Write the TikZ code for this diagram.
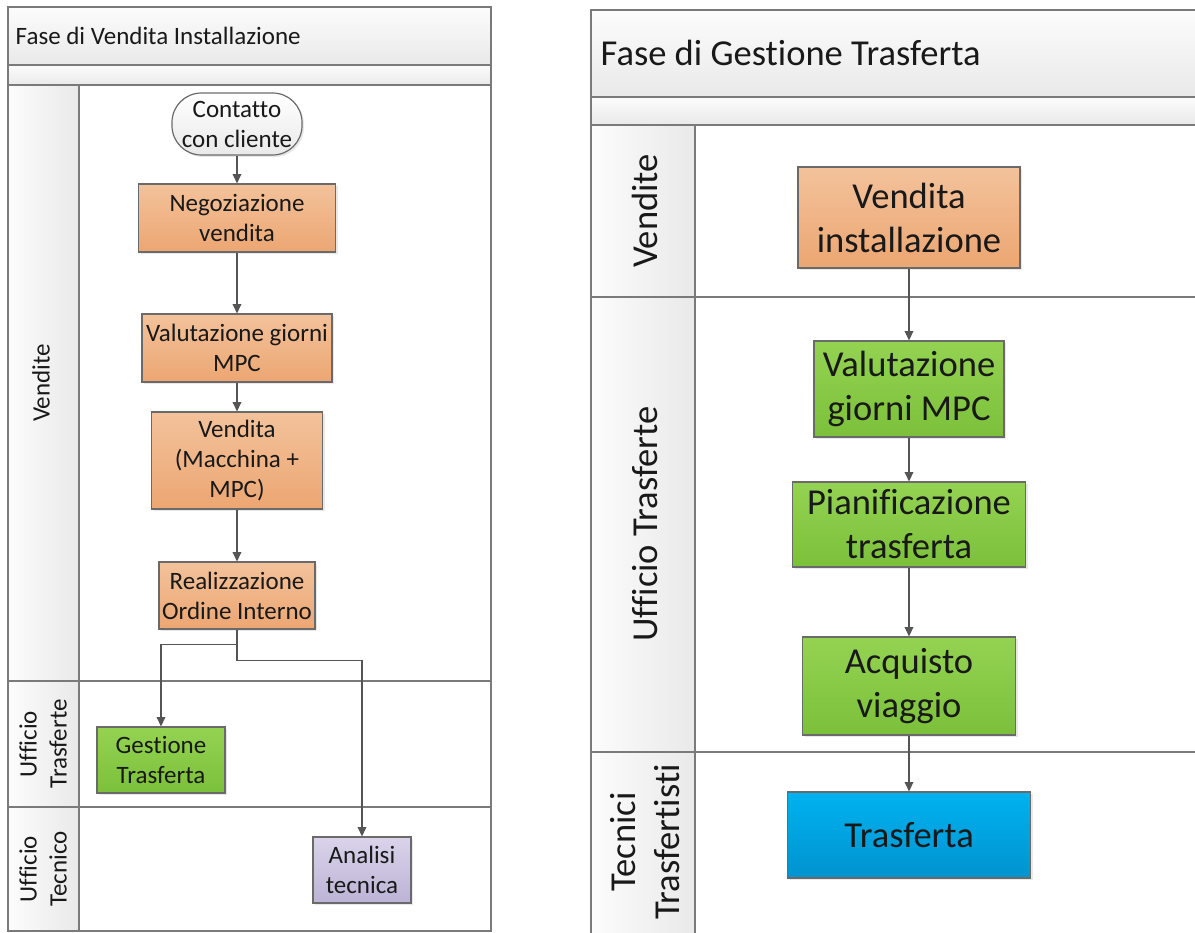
\documentclass[tikz,border=0pt]{standalone}
\usepackage{fontspec}
\setmainfont{Carlito}[Ligatures=NoCommon]
\usetikzlibrary{arrows.meta,shadows}

\definecolor{linegray}{HTML}{7A7A7A}
\definecolor{boxline}{HTML}{6A6A6A}
\definecolor{arrowgray}{HTML}{555555}
\definecolor{orangeT}{HTML}{F3C29B}
\definecolor{orangeB}{HTML}{ECA672}
\definecolor{greenT}{HTML}{94D352}
\definecolor{greenB}{HTML}{7BC03A}
\definecolor{blueT}{HTML}{00B2F0}
\definecolor{blueB}{HTML}{0093CF}
\definecolor{lilacT}{HTML}{DAD3EA}
\definecolor{lilacB}{HTML}{BDB3D6}
\definecolor{headT}{HTML}{FCFCFC}
\definecolor{headB}{HTML}{E9E9E9}

\tikzset{
  frame/.style={draw=linegray, line width=1.1pt},
  headfill/.style={top color=headT, bottom color=headB, draw=none},
  lanefill/.style={left color=headT, right color=headB, draw=none},
  smallfont/.style={font=\fontsize{18.75}{22.5}\selectfont},
  bigfont/.style={font=\fontsize{27.4}{33}\selectfont},
  procbox/.style={rectangle, draw=boxline, line width=0.9pt, align=center,
    inner sep=2pt, text=black!90,
    drop shadow={opacity=0.18, shadow xshift=1.5pt, shadow yshift=-1.5pt}},
  orangebox/.style={procbox, top color=orangeT, bottom color=orangeB},
  greenbox/.style={procbox, top color=greenT, bottom color=greenB},
  bluebox/.style={procbox, top color=blueT, bottom color=blueB},
  lilacbox/.style={procbox, top color=lilacT, bottom color=lilacB},
  startbox/.style={procbox, rounded corners=22pt, top color=white, bottom color=headB},
  lanelabel/.style={rotate=90, align=center, text=black!90},
  arr/.style={draw=arrowgray, line width=1pt, -{Triangle[length=7pt,width=6.5pt]}},
}

\begin{document}
\begin{tikzpicture}[x=0.75pt,y=-0.75pt]
\useasboundingbox (0,0) rectangle (1195,932);
\clip (0,0) rectangle (1195,932);
\fill[white] (0,0) rectangle (1195,932);

% ---------- Fase di Vendita Installazione ----------
\shade[headfill] (8,7) rectangle (491,65);
\shade[headfill] (8,65) rectangle (491,85);
\shade[lanefill] (8,85) rectangle (79,931);
\draw[frame] (8,7) rectangle (491,931);
\draw[frame] (8,65) -- (491,65);
\draw[frame] (8,85) -- (491,85);
\draw[frame] (79,85) -- (79,931);
\draw[frame] (8,681) -- (491,681);
\draw[frame] (8,807) -- (491,807);

\node[smallfont, anchor=west, text=black!90] (titleL) at (11,36) {Fase di Vendita Installazione};
\node[smallfont, lanelabel] (laneLa) at (41,383) {Vendite};
\node[smallfont, lanelabel] (laneLb) at (43,744) {Ufficio\\Trasferte};
\node[smallfont, lanelabel] (laneLc) at (43,869) {Ufficio\\Tecnico};

\node[startbox, smallfont, minimum width=130*0.75pt, minimum height=62*0.75pt] (contatto) at (237,124) {Contatto\\con cliente};
\node[orangebox, smallfont, minimum width=197*0.75pt, minimum height=68*0.75pt] (nego) at (237,218) {Negoziazione\\vendita};
\node[orangebox, smallfont, minimum width=190*0.75pt, minimum height=68*0.75pt] (valutL) at (237,348) {Valutazione giorni\\MPC};
\node[orangebox, smallfont, minimum width=171*0.75pt, minimum height=97*0.75pt] (venditaL) at (237,460.5) {Vendita\\(Macchina +\\MPC)};
\node[orangebox, smallfont, minimum width=156*0.75pt, minimum height=67*0.75pt] (realiz) at (237,595.5) {Realizzazione\\Ordine Interno};
\node[greenbox, smallfont, minimum width=128*0.75pt, minimum height=66*0.75pt] (gestione) at (161,760) {Gestione\\Trasferta};
\node[lilacbox, smallfont, minimum width=98*0.75pt, minimum height=66*0.75pt] (analisi) at (362,870) {Analisi\\tecnica};

\draw[arr] (contatto) -- (nego);
\draw[arr] (nego) -- (valutL);
\draw[arr] (valutL) -- (venditaL);
\draw[arr] (venditaL) -- (realiz);
\draw[arr] (realiz.south) -- ++(0,15) -| (gestione.north);
\draw[arr] (realiz.south) -- ++(0,31) -| (analisi.north);

% ---------- Fase di Gestione Trasferta ----------
\shade[headfill] (591,10) rectangle (1200,97);
\shade[headfill] (591,97) rectangle (1200,125);
\shade[lanefill] (591,125) rectangle (695,940);
\draw[frame] (1200,10) -- (591,10) -- (591,940);
\draw[frame] (591,97) -- (1200,97);
\draw[frame] (591,125) -- (1200,125);
\draw[frame] (695,125) -- (695,940);
\draw[frame] (591,297) -- (1200,297);
\draw[frame] (591,752) -- (1200,752);

\node[bigfont, anchor=west, text=black!90] (titleR) at (596,53) {Fase di Gestione Trasferta};
\node[bigfont, lanelabel] (laneRa) at (645,211) {Vendite};
\node[bigfont, lanelabel] (laneRb) at (645,524) {Ufficio Trasferte};
\node[bigfont, lanelabel] (laneRc) at (645,842) {Tecnici\\Trasfertisti};

\node[orangebox, bigfont, minimum width=222*0.75pt, minimum height=101*0.75pt] (vinst) at (909,217.5) {Vendita\\installazione};
\node[greenbox, bigfont, minimum width=190*0.75pt, minimum height=96*0.75pt] (valutR) at (909,389) {Valutazione\\giorni MPC};
\node[greenbox, bigfont, minimum width=233*0.75pt, minimum height=85*0.75pt] (pianif) at (909,524.5) {Pianificazione\\trasferta};
\node[greenbox, bigfont, minimum width=213*0.75pt, minimum height=98*0.75pt] (acquisto) at (909,686) {Acquisto\\viaggio};
\node[bluebox, bigfont, minimum width=243*0.75pt, minimum height=86*0.75pt] (trasf) at (909,835) {Trasferta};

\draw[arr] (vinst) -- (valutR);
\draw[arr] (valutR) -- (pianif);
\draw[arr] (pianif) -- (acquisto);
\draw[arr] (acquisto) -- (trasf);
\end{tikzpicture}
\end{document}
